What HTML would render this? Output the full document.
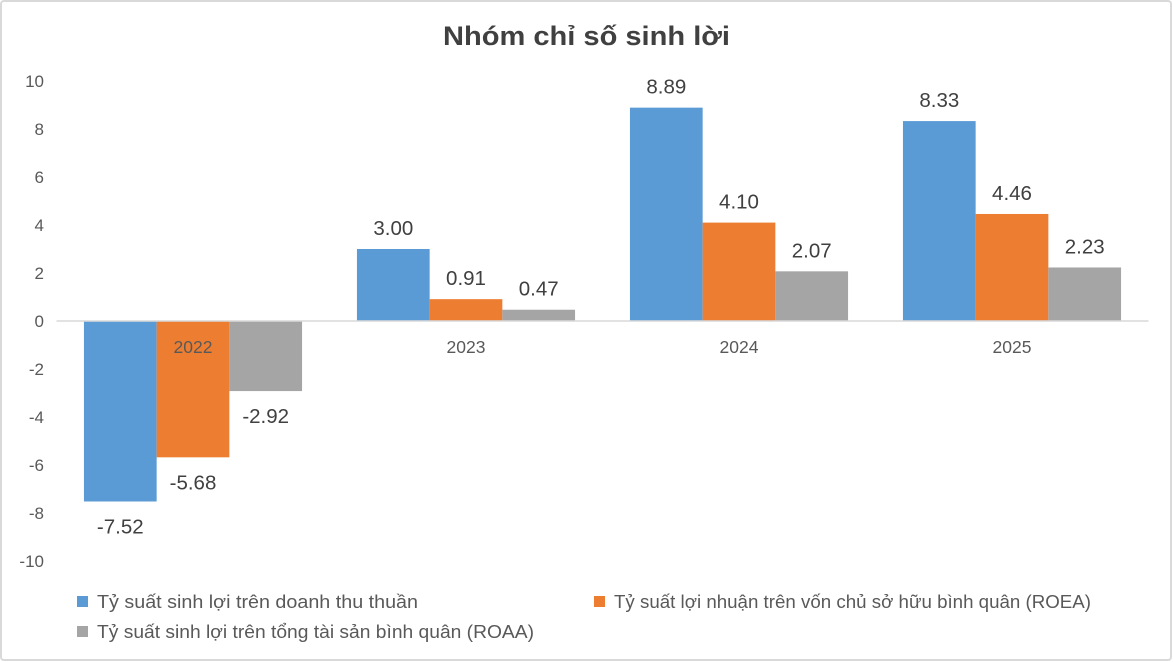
<!DOCTYPE html>
<html><head><meta charset="utf-8"><style>
body{margin:0;background:#fff;}
svg{display:block;font-family:"Liberation Sans",Arial,sans-serif;}
</style></head><body>
<svg width="1173" height="662">
<rect x="1" y="1" width="1170" height="659" rx="3" fill="#fff" stroke="#d9d9d9" stroke-width="2"/>
<text x="443" y="45" font-size="27" font-weight="bold" fill="#404040" textLength="287" lengthAdjust="spacingAndGlyphs">Nhóm chỉ số sinh lời</text>
<g id="axis"></g>
<g id="bars"></g>
<g id="legend"></g>
</svg>
<script>
const categories=["2022","2023","2024","2025"];
const seriesNames=["Tỷ suất sinh lợi trên doanh thu thuần","Tỷ suất lợi nhuận trên vốn chủ sở hữu bình quân (ROEA)","Tỷ suất sinh lợi trên tổng tài sản bình quân (ROAA)"];
const ros=[-7.52,3.00,8.89,8.33];
const roea=[-5.68,0.91,4.10,4.46];
const roaa=[-2.92,0.47,2.07,2.23];
const yTicks=[10,8,6,4,2,0,-2,-4,-6,-8,-10];
const colors=["#5b9bd5","#ed7d31","#a5a5a5"];
const NS="http://www.w3.org/2000/svg";
const y=v=>321-v*24;
const left=56.5,groupW=273,barW=72.7;
const gx=i=>left+i*groupW+groupW/2;
function mk(tag,attrs,parent){const e=document.createElementNS(NS,tag);for(const k in attrs)e.setAttribute(k,attrs[k]);parent.appendChild(e);return e;}
const axis=document.getElementById('axis');
yTicks.forEach(t=>{const e=mk('text',{x:44,y:y(t)+6,'text-anchor':'end','font-size':17,fill:'#595959'},axis);e.textContent=t;

});
const bars=document.getElementById('bars');
const series=[ros,roea,roaa];
series.forEach((s,si)=>{s.forEach((v,ci)=>{
const x=gx(ci)-1.5*barW+si*barW;
const r=mk('rect',{x:x,y:Math.min(y(v),y(0)),width:barW,height:Math.abs(y(v)-y(0)),fill:colors[si]},bars);


const ly=v>=0?y(v)-14:y(v)+32;
const t=mk('text',{x:x+barW/2,y:ly,'text-anchor':'middle','font-size':20.5,fill:'#404040'},bars);t.textContent=v.toFixed(2);


});});
const zl=mk('line',{x1:left,x2:left+4*groupW,y1:y(0),y2:y(0),stroke:'#d9d9d9','stroke-width':1.5},bars);


categories.forEach((c,ci)=>{const t=mk('text',{x:gx(ci),y:y(0)+32,'text-anchor':'middle','font-size':17.5,fill:'#595959'},bars);t.textContent=c;

});
const legend=document.getElementById('legend');
const lpos=[[77,601],[594,601],[77,631]];
const lwid=[321,477,437];
seriesNames.forEach((n,i)=>{const g=mk('g',{},legend);


mk('rect',{x:lpos[i][0],y:lpos[i][1]-5,width:11,height:11,fill:colors[i]},g);
const t=mk('text',{x:lpos[i][0]+20,y:lpos[i][1]+7,'font-size':18.5,fill:'#595959',textLength:lwid[i],lengthAdjust:'spacingAndGlyphs'},g);t.textContent=n;});
</script>
</body></html>
